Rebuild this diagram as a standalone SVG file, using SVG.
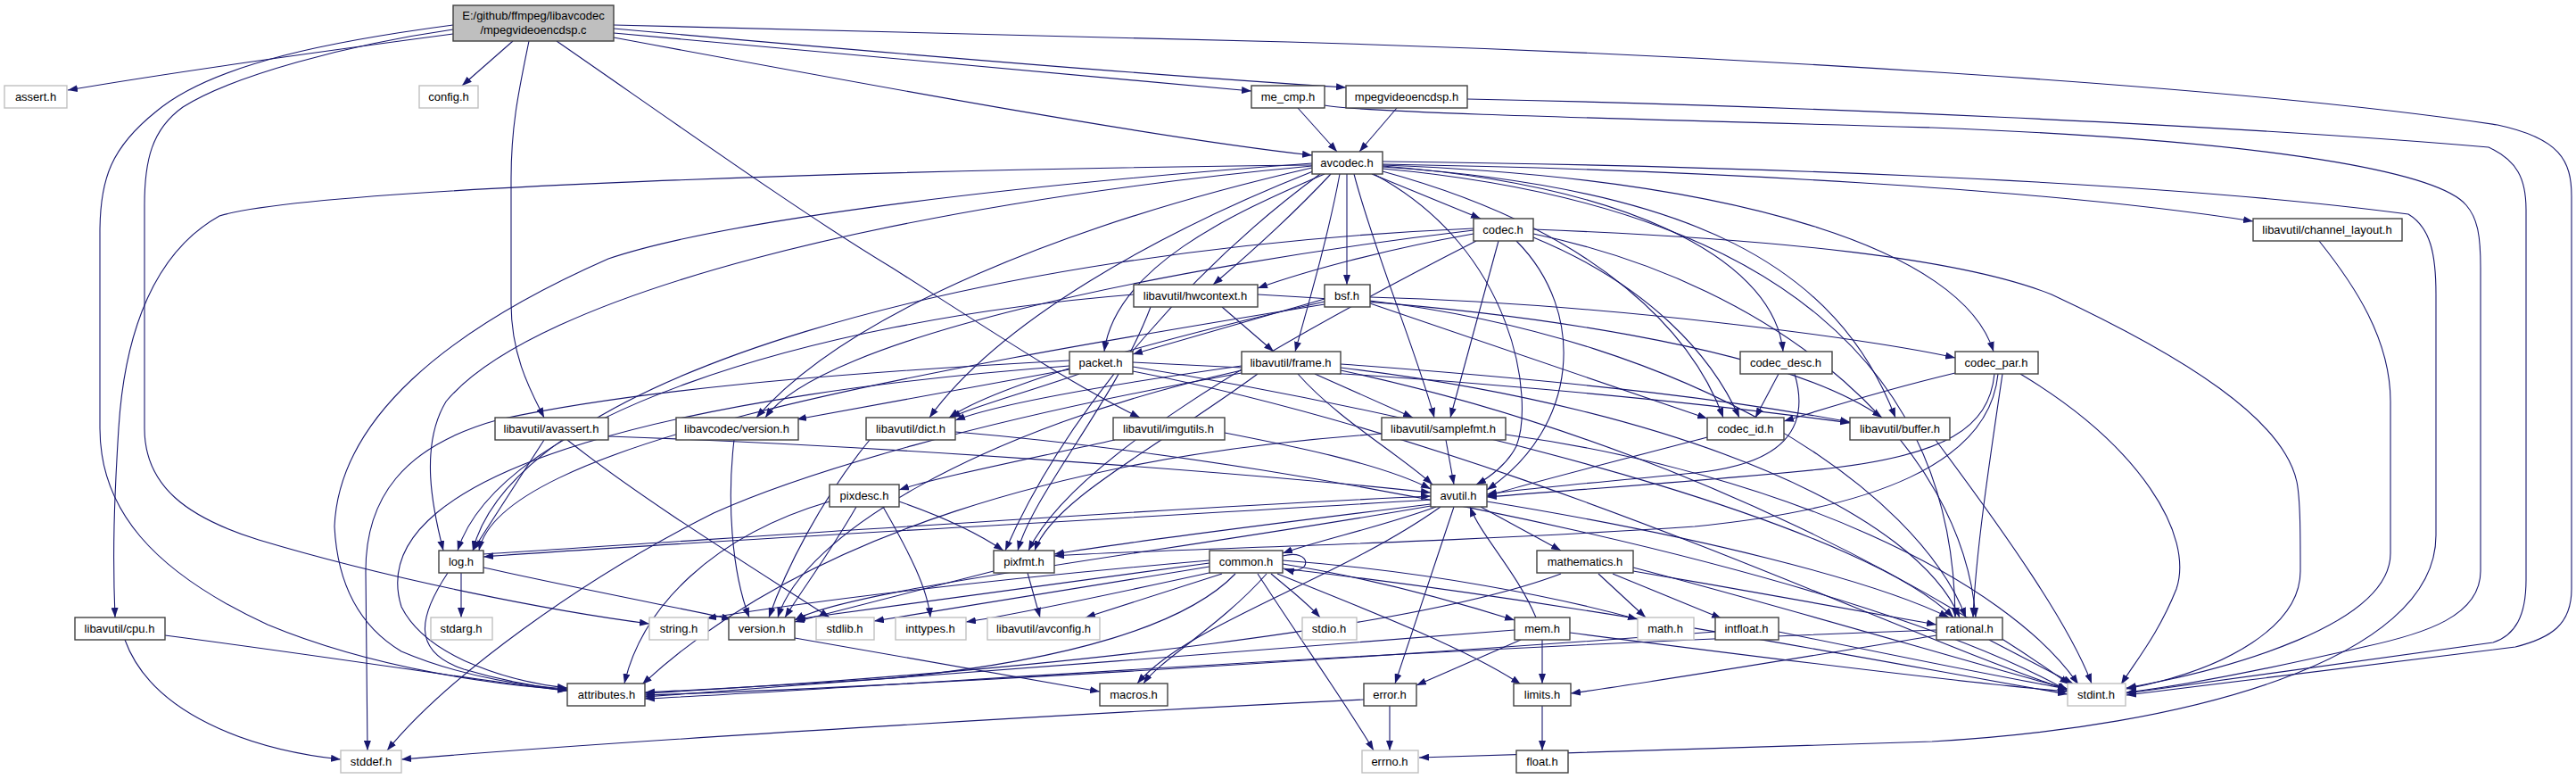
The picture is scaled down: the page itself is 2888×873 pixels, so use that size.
<svg xmlns="http://www.w3.org/2000/svg" width="2888" height="873" viewBox="0 0 2888 873">
<defs>
<marker id="a" markerUnits="userSpaceOnUse" markerWidth="11" markerHeight="8" refX="11" refY="4" orient="auto"><path d="M0,0 L11,4 L0,8 z" fill="#191970"/></marker>
<style>
.e path{fill:none;stroke:#191970;stroke-width:1.1;marker-end:url(#a)}
.n rect{fill:#fff;stroke:#404040;stroke-width:1.4}
.g rect{fill:#fff;stroke:#c0c0c0;stroke-width:1.4}
.m rect{fill:#bfbfbf;stroke:#404040;stroke-width:1.4}
text{font-family:"Liberation Sans",Arial,sans-serif;font-size:13px;text-anchor:middle;fill:#000}
</style>
</defs>
<rect width="2888" height="873" fill="#fff"/>
<g id="edges" class="e">
<path d="M508,38 C380,55 200,80 76,101"/>
<path d="M575,46 L518,96"/>
<path d="M508,28 C380,45 240,70 175,125 C125,165 112,200 112,260 L112,480 C112,570 170,640 300,700 C420,750 560,768 636,773"/>
<path d="M508,33 C390,50 260,85 205,120 C170,145 162,180 162,230 L162,480 C162,545 210,580 290,605 C440,650 620,685 728,699"/>
<path d="M593,46 C582,100 573,140 573,200 L573,340 C573,400 596,440 610,468"/>
<path d="M624,46 C760,140 900,240 1000,300 C1110,370 1200,430 1278,468"/>
<path d="M688,37 L1403,102"/>
<path d="M688,32 C1000,60 1300,85 1509,98"/>
<path d="M688,42 C1000,100 1300,155 1471,174"/>
<path d="M688,28 L1444,47 C1900,60 2500,95 2800,140 C2870,155 2883,180 2883,220 L2883,660 C2883,700 2860,715 2820,725 L2384,779"/>
<path d="M1455,121 L1499,170"/>
<path d="M1485,118 C1520,125 1700,130 2166,143 C2600,160 2740,200 2765,230 C2778,245 2781,265 2781,300 L2781,640 C2781,690 2720,710 2650,725 C2550,748 2450,768 2384,776"/>
<path d="M1566,121 L1524,170"/>
<path d="M1645,111 C2000,118 2500,140 2790,165 C2822,180 2832,200 2832,235 L2832,650 C2832,690 2820,712 2795,720 L2384,777"/>
<path d="M1550,181 C1900,185 2400,200 2700,240 C2725,255 2731,285 2731,330 L2731,600 C2731,740 2450,815 2166,831 L1591,849"/>
<path d="M1550,184 C1900,190 2300,212 2526,248"/>
<path d="M1538,195 L1660,245"/>
<path d="M1492,195 C1450,240 1400,285 1360,319"/>
<path d="M1510,195 L1510,319"/>
<path d="M1485,195 C1380,240 1250,300 1238,394"/>
<path d="M1502,195 C1490,260 1470,330 1452,394"/>
<path d="M1518,195 C1540,280 1590,400 1608,468"/>
<path d="M1540,195 C1700,280 1720,450 1700,500 C1690,520 1670,535 1655,543"/>
<path d="M1472,192 C1300,260 1120,360 1042,468"/>
<path d="M1471,188 C1200,250 950,350 848,468"/>
<path d="M1471,186 C1000,230 600,330 500,450 C470,500 485,570 497,617"/>
<path d="M1471,183 C1100,210 800,250 682,290 C500,370 380,470 375,590 C378,650 400,700 450,730 C520,760 600,770 636,772"/>
<path d="M1471,185 C1000,190 350,210 246,242 C160,290 138,400 133,480 C128,560 126,620 129,692"/>
<path d="M1480,195 C1350,290 1200,450 1127,617"/>
<path d="M1550,189 C2000,230 2190,420 2192,692"/>
<path d="M1550,187 C1900,210 2060,300 2125,468"/>
<path d="M1550,192 C1800,260 1900,380 1932,468"/>
<path d="M1550,186 C1850,210 1990,300 1999,394"/>
<path d="M1550,185 C1950,200 2200,280 2235,394"/>
<path d="M1652,262 C1550,280 1460,305 1410,323"/>
<path d="M1652,258 C1300,300 920,380 858,468"/>
<path d="M1652,256 C1100,280 580,420 530,617"/>
<path d="M1655,270 C1400,400 1200,520 1153,617"/>
<path d="M1680,270 L1626,468"/>
<path d="M1700,270 C1780,350 1770,480 1667,549"/>
<path d="M1719,266 C1850,320 1920,400 1950,468"/>
<path d="M1719,262 C2000,320 2200,500 2215,692"/>
<path d="M1719,257 C2000,268 2200,290 2300,330 C2450,400 2560,470 2575,540 C2579,560 2579,600 2579,640 C2579,700 2500,750 2384,772"/>
<path d="M1370,344 L1428,394"/>
<path d="M1410,330 C1700,345 2000,390 2110,468"/>
<path d="M1271,330 C900,360 560,470 513,617"/>
<path d="M1290,344 C1250,450 1160,550 1141,617"/>
<path d="M1485,335 C1400,360 1320,382 1270,397"/>
<path d="M1485,338 C1300,380 1120,430 1064,468"/>
<path d="M1485,341 C1000,420 560,500 537,617"/>
<path d="M1536,340 L1914,469"/>
<path d="M1536,333 C1800,340 2100,380 2192,401"/>
<path d="M1536,337 C1900,380 2150,550 2204,692"/>
<path d="M1199,414 L893,470"/>
<path d="M1210,419 C1150,440 1090,456 1066,468"/>
<path d="M1270,406 C1600,420 1900,450 2074,474"/>
<path d="M1270,411 C1700,480 2100,600 2190,692"/>
<path d="M1270,416 C1700,500 2100,700 2318,773"/>
<path d="M1199,410 C800,440 400,520 450,680 C480,740 580,765 636,771"/>
<path d="M1199,404 C900,420 700,440 560,470 C450,500 410,560 410,640 L412,841"/>
<path d="M1474,419 L1584,468"/>
<path d="M1455,419 C1500,470 1570,510 1606,543"/>
<path d="M1392,410 C1250,430 1120,452 1071,471"/>
<path d="M1503,408 C1800,430 1950,450 2074,473"/>
<path d="M1503,412 C1900,460 2150,580 2197,692"/>
<path d="M1503,415 C1900,500 2200,680 2320,767"/>
<path d="M1410,419 C1300,500 1180,560 1160,617"/>
<path d="M1392,415 C1100,480 900,600 872,692"/>
<path d="M1392,418 C1100,470 900,530 800,575 C650,650 500,760 434,841"/>
<path d="M1994,419 L1968,468"/>
<path d="M2012,419 C2030,480 2000,520 1900,530 C1800,540 1700,548 1667,554"/>
<path d="M1914,490 C1800,520 1700,545 1667,556"/>
<path d="M2192,418 C2100,440 2040,460 2000,472"/>
<path d="M2236,419 C2230,480 2180,510 2050,525 C1900,540 1750,550 1667,557"/>
<path d="M2240,419 C2230,520 2100,570 1900,590 C1600,610 1300,615 1182,623"/>
<path d="M2245,419 C2230,520 2215,620 2212,692"/>
<path d="M2265,419 C2400,500 2460,600 2440,660 C2420,710 2395,740 2378,767"/>
<path d="M975,493 C920,560 880,640 862,692"/>
<path d="M1071,484 C1500,520 2100,650 2318,774"/>
<path d="M1621,493 L1630,543"/>
<path d="M1688,487 C2000,530 2250,650 2330,767"/>
<path d="M1549,486 C1200,510 900,600 720,767"/>
<path d="M2170,493 C2250,600 2320,700 2345,766"/>
<path d="M2600,270 C2640,320 2680,380 2680,450 L2680,620 C2680,700 2500,750 2384,771"/>
<path d="M1250,493 C1150,515 1050,535 1008,549"/>
<path d="M1373,485 C1450,500 1550,520 1604,548"/>
<path d="M610,493 L530,617"/>
<path d="M636,493 C720,560 850,640 930,692"/>
<path d="M682,489 C1000,500 1400,530 1604,552"/>
<path d="M1008,562 C1060,580 1100,600 1125,617"/>
<path d="M990,568 C1020,620 1040,660 1043,692"/>
<path d="M960,568 C930,620 900,660 880,692"/>
<path d="M930,562 C800,600 720,680 700,766"/>
<path d="M823,493 C815,560 820,640 840,692"/>
<path d="M1610,568 C1550,590 1480,605 1438,620"/>
<path d="M1630,568 L1564,766"/>
<path d="M1660,568 L1750,617"/>
<path d="M1667,562 C1900,600 2100,650 2185,692"/>
<path d="M1604,560 C1200,585 800,605 542,624"/>
<path d="M542,621 C900,598 1300,570 1604,556"/>
<path d="M1604,565 C1400,590 1250,610 1182,621"/>
<path d="M1604,567 C1300,620 950,660 891,695"/>
<path d="M1615,568 C1500,650 1330,700 1275,766"/>
<path d="M891,715 L1233,775"/>
<path d="M517,642 L517,692"/>
<path d="M502,642 C470,690 460,730 520,750 C570,765 610,770 636,774"/>
<path d="M542,636 C650,660 780,685 820,694"/>
<path d="M1152,642 L1166,692"/>
<path d="M1114,640 L891,697"/>
<path d="M1356,631 L892,694"/>
<path d="M1356,628 C1100,650 900,675 792,693"/>
<path d="M1356,635 C1200,660 1050,685 980,696"/>
<path d="M1360,641 C1250,665 1130,690 1083,697"/>
<path d="M1370,643 L1217,692"/>
<path d="M1420,643 C1370,700 1300,740 1282,766"/>
<path d="M1385,643 C1330,700 1200,740 1000,760 C850,770 760,774 723,776"/>
<path d="M1425,643 C1445,660 1465,675 1480,692"/>
<path d="M1438,632 C1550,650 1650,680 1698,695"/>
<path d="M1438,628 C1600,640 1750,670 1836,694"/>
<path d="M1432,643 C1550,690 1650,730 1705,767"/>
<path d="M1410,643 C1460,720 1510,790 1540,841"/>
<path d="M1438,637 C1800,680 2100,740 2318,778"/>
<path d="M1438,623 C1472,614 1472,646 1440,638"/>
<path d="M1792,643 L1845,692"/>
<path d="M1808,643 L1930,693"/>
<path d="M1831,640 C1950,660 2080,685 2171,700"/>
<path d="M1831,636 C2000,680 2200,740 2318,772"/>
<path d="M1750,643 C1600,700 1200,750 723,777"/>
<path d="M1994,708 C2150,740 2250,760 2318,772"/>
<path d="M1923,708 C1500,740 1000,770 723,779"/>
<path d="M1729,717 L1729,766"/>
<path d="M1705,717 L1588,768"/>
<path d="M1722,692 C1700,640 1660,600 1648,568"/>
<path d="M1760,709 C2000,740 2200,765 2318,775"/>
<path d="M1698,706 C1400,730 1000,760 723,781"/>
<path d="M2230,717 L2324,766"/>
<path d="M2171,712 C2000,740 1850,765 1761,777"/>
<path d="M2171,706 C1500,730 1000,770 723,783"/>
<path d="M1558,791 L1558,841"/>
<path d="M1529,784 C1200,800 700,830 450,851"/>
<path d="M1729,791 L1729,841"/>
<path d="M185,712 C400,740 550,765 636,774"/>
<path d="M140,717 C170,800 280,840 382,851"/>
</g>
<g id="n_main" class="m"><rect x="508" y="6" width="180" height="40"/><text x="598" y="22">E:/github/ffmpeg/libavcodec</text><text x="598" y="38">/mpegvideoencdsp.c</text></g>
<g id="n_assert" class="g"><rect x="5" y="96" width="70" height="25"/><text x="40" y="113">assert.h</text></g>
<g id="n_config" class="g"><rect x="470" y="96" width="66" height="25"/><text x="503" y="113">config.h</text></g>
<g id="n_me_cmp" class="n"><rect x="1403" y="96" width="82" height="25"/><text x="1444" y="113">me_cmp.h</text></g>
<g id="n_mvedsp" class="n"><rect x="1509" y="96" width="136" height="25"/><text x="1577" y="113">mpegvideoencdsp.h</text></g>
<g id="n_avcodec" class="n"><rect x="1471" y="170" width="79" height="25"/><text x="1510" y="187">avcodec.h</text></g>
<g id="n_codec" class="n"><rect x="1652" y="245" width="67" height="25"/><text x="1685" y="262">codec.h</text></g>
<g id="n_chlayout" class="n"><rect x="2526" y="245" width="167" height="25"/><text x="2609" y="262">libavutil/channel_layout.h</text></g>
<g id="n_hwctx" class="n"><rect x="1271" y="319" width="139" height="25"/><text x="1340" y="336">libavutil/hwcontext.h</text></g>
<g id="n_bsf" class="n"><rect x="1485" y="319" width="51" height="25"/><text x="1510" y="336">bsf.h</text></g>
<g id="n_packet" class="n"><rect x="1199" y="394" width="71" height="25"/><text x="1234" y="411">packet.h</text></g>
<g id="n_frame" class="n"><rect x="1392" y="394" width="111" height="25"/><text x="1447" y="411">libavutil/frame.h</text></g>
<g id="n_cdesc" class="n"><rect x="1951" y="394" width="103" height="25"/><text x="2002" y="411">codec_desc.h</text></g>
<g id="n_cpar" class="n"><rect x="2192" y="394" width="93" height="25"/><text x="2238" y="411">codec_par.h</text></g>
<g id="n_lcver" class="n"><rect x="758" y="468" width="137" height="25"/><text x="826" y="485">libavcodec/version.h</text></g>
<g id="n_avassert" class="n"><rect x="555" y="468" width="127" height="25"/><text x="618" y="485">libavutil/avassert.h</text></g>
<g id="n_dict" class="n"><rect x="971" y="468" width="100" height="25"/><text x="1021" y="485">libavutil/dict.h</text></g>
<g id="n_imgutils" class="n"><rect x="1248" y="468" width="125" height="25"/><text x="1310" y="485">libavutil/imgutils.h</text></g>
<g id="n_samplefmt" class="n"><rect x="1549" y="468" width="139" height="25"/><text x="1618" y="485">libavutil/samplefmt.h</text></g>
<g id="n_cid" class="n"><rect x="1914" y="468" width="86" height="25"/><text x="1957" y="485">codec_id.h</text></g>
<g id="n_buffer" class="n"><rect x="2074" y="468" width="112" height="25"/><text x="2130" y="485">libavutil/buffer.h</text></g>
<g id="n_pixdesc" class="n"><rect x="930" y="543" width="78" height="25"/><text x="969" y="560">pixdesc.h</text></g>
<g id="n_avutil" class="n"><rect x="1604" y="543" width="63" height="25"/><text x="1635" y="560">avutil.h</text></g>
<g id="n_log" class="n"><rect x="492" y="617" width="50" height="25"/><text x="517" y="634">log.h</text></g>
<g id="n_pixfmt" class="n"><rect x="1114" y="617" width="68" height="25"/><text x="1148" y="634">pixfmt.h</text></g>
<g id="n_common" class="n"><rect x="1356" y="617" width="82" height="25"/><text x="1397" y="634">common.h</text></g>
<g id="n_mathematics" class="n"><rect x="1723" y="617" width="108" height="25"/><text x="1777" y="634">mathematics.h</text></g>
<g id="n_cpu" class="n"><rect x="84" y="692" width="101" height="25"/><text x="134" y="709">libavutil/cpu.h</text></g>
<g id="n_stdarg" class="g"><rect x="483" y="692" width="69" height="25"/><text x="517" y="709">stdarg.h</text></g>
<g id="n_string" class="g"><rect x="728" y="692" width="66" height="25"/><text x="761" y="709">string.h</text></g>
<g id="n_version" class="n"><rect x="817" y="692" width="74" height="25"/><text x="854" y="709">version.h</text></g>
<g id="n_stdlib" class="g"><rect x="915" y="692" width="65" height="25"/><text x="947" y="709">stdlib.h</text></g>
<g id="n_inttypes" class="g"><rect x="1004" y="692" width="79" height="25"/><text x="1043" y="709">inttypes.h</text></g>
<g id="n_avconfig" class="g"><rect x="1107" y="692" width="126" height="25"/><text x="1170" y="709">libavutil/avconfig.h</text></g>
<g id="n_stdio" class="g"><rect x="1460" y="692" width="61" height="25"/><text x="1490" y="709">stdio.h</text></g>
<g id="n_mem" class="n"><rect x="1698" y="692" width="62" height="25"/><text x="1729" y="709">mem.h</text></g>
<g id="n_mathh" class="g"><rect x="1836" y="692" width="63" height="25"/><text x="1867" y="709">math.h</text></g>
<g id="n_intfloat" class="n"><rect x="1923" y="692" width="71" height="25"/><text x="1958" y="709">intfloat.h</text></g>
<g id="n_rational" class="n"><rect x="2171" y="692" width="74" height="25"/><text x="2208" y="709">rational.h</text></g>
<g id="n_attributes" class="n"><rect x="636" y="766" width="87" height="25"/><text x="680" y="783">attributes.h</text></g>
<g id="n_macros" class="n"><rect x="1233" y="766" width="76" height="25"/><text x="1271" y="783">macros.h</text></g>
<g id="n_error" class="n"><rect x="1529" y="766" width="59" height="25"/><text x="1558" y="783">error.h</text></g>
<g id="n_limits" class="n"><rect x="1697" y="766" width="64" height="25"/><text x="1729" y="783">limits.h</text></g>
<g id="n_stdint" class="g"><rect x="2318" y="766" width="65" height="25"/><text x="2350" y="783">stdint.h</text></g>
<g id="n_stddef" class="g"><rect x="382" y="841" width="68" height="25"/><text x="416" y="858">stddef.h</text></g>
<g id="n_errno" class="g"><rect x="1527" y="841" width="63" height="25"/><text x="1558" y="858">errno.h</text></g>
<g id="n_float" class="n"><rect x="1700" y="841" width="58" height="25"/><text x="1729" y="858">float.h</text></g>
</svg>
